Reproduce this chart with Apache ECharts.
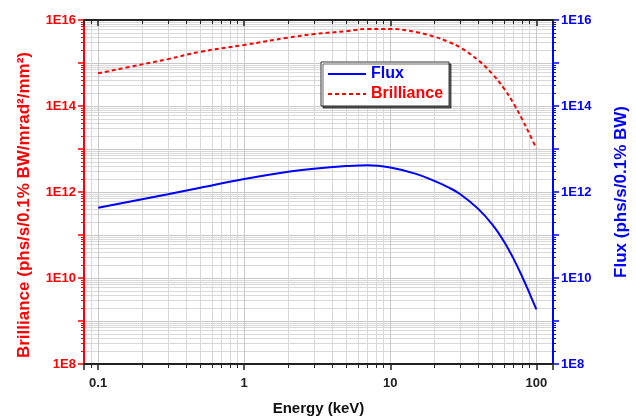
<!DOCTYPE html>
<html>
<head>
<meta charset="utf-8">
<script src="https://cdn.jsdelivr.net/npm/echarts@6/dist/echarts.min.js"></script>
<style>
  html, body { margin: 0; padding: 0; background: #fff; }
  #chart { width: 636px; height: 417px; }
</style>
</head>
<body>
<div id="chart"></div>
<script>
const energy = [0.1, 0.2, 0.3, 0.5, 1, 2, 3, 5, 7, 10, 15, 20, 25, 30, 40, 50, 60, 70, 80, 90, 100]
const brilliance = [5.75e14, 9.3e14, 1.23e15, 1.82e15, 2.63e15, 3.9e15, 4.7e15, 5.5e15, 6.2e15, 6.2e15, 5.24e15, 4.09e15, 3.11e15, 2.31e15, 1.16e15, 5.55e14, 2.55e14, 1.13e14, 4.88e13, 2.19e13, 1.03e13]
const flux = [4.3e11, 6.8e11, 8.9e11, 1.26e12, 2.0e12, 2.95e12, 3.47e12, 4.0e12, 4.2e12, 3.7e12, 2.64e12, 1.81e12, 1.28e12, 9.0e11, 4.05e11, 1.74e11, 7.07e10, 2.75e10, 1.07e10, 4.31e9, 1.86e9]

const font = 'Liberation Sans, Arial, sans-serif'
const chart = echarts.init(document.getElementById('chart'))

const pairs = (ys) => energy.map((e, i) => [e, ys[i]])
const expLabel = (v) => {
  const p = Math.round(Math.log10(v))
  return p % 2 === 0 ? '1E' + p : ''
}

const yAxisBase = (color, pos) => ({
  type: 'log',
  logBase: 10,
  position: pos,
  min: 1e8,
  max: 1e16,
  splitNumber: 8,
  axisLine: {show: true, lineStyle: {color: color, width: 2}},
  axisTick: {show: true, inside: false, length: 6, lineStyle: {color: color, width: 1.5}},
  minorTick: {show: true, splitNumber: 9, length: 3, lineStyle: {color: color}},
  axisLabel: {color: color, fontFamily: font, fontWeight: 'bold', fontSize: 13, formatter: expLabel, margin: 8},
  nameLocation: 'middle',
  nameRotate: 90,
})

chart.setOption({
  animation: false,
  backgroundColor: '#fff',
  grid: {left: 84, right: 83, top: 20, bottom: 53, outerBoundsMode: 'none'},
  legend: {
    orient: 'vertical',
    left: 321,
    top: 62,
    itemWidth: 38,
    itemHeight: 10,
    itemGap: 4,
    padding: [4, 6, 4, 6],
    backgroundColor: '#fff',
    borderColor: '#333',
    borderWidth: 1,
    shadowColor: 'rgba(0,0,0,0.6)',
    shadowOffsetX: 2,
    shadowOffsetY: 2,
    itemStyle: {color: 'transparent', borderWidth: 0},
    textStyle: {fontFamily: font, fontWeight: 'bold', fontSize: 16},
    data: [
      {name: 'Flux', textStyle: {color: '#0000ff'}},
      {name: 'Brilliance', textStyle: {color: '#ff0000'}},
    ],
  },
  xAxis: [
    {
      type: 'log',
      logBase: 10,
      min: 0.08,
      max: 130,
      position: 'bottom',
      axisLine: {show: true, lineStyle: {color: '#222', width: 2}},
      axisTick: {show: true, inside: false, length: 6, lineStyle: {color: '#222', width: 1.5}},
      minorTick: {show: true, splitNumber: 9, length: 4, lineStyle: {color: '#222'}},
      axisLabel: {color: '#222', fontFamily: font, fontWeight: 'bold', fontSize: 13, margin: 13, showMinLabel: false, showMaxLabel: false},
      splitLine: {show: true, lineStyle: {color: '#c8c8c8'}},
      minorSplitLine: {show: true, lineStyle: {color: '#d8d8d8'}},
      name: 'Energy (keV)',
      nameLocation: 'middle',
      nameGap: 37,
      nameTextStyle: {color: '#111', fontFamily: font, fontWeight: 'bold', fontSize: 15},
    },
    {
      type: 'log',
      logBase: 10,
      min: 0.08,
      max: 130,
      position: 'top',
      axisLine: {show: true, lineStyle: {color: '#222', width: 2}},
      axisTick: {show: true, inside: true, length: 6, lineStyle: {color: '#222', width: 1.5}},
      minorTick: {show: true, splitNumber: 9, length: 4, lineStyle: {color: '#222'}},
      axisLabel: {show: false},
      splitLine: {show: false},
    },
  ],
  yAxis: [
    Object.assign(yAxisBase('#ff0000', 'left'), {
      name: 'Brilliance (phs/s/0.1% BW/mrad²/mm²)',
      nameGap: 51,
      nameTextStyle: {color: '#ff0000', fontFamily: font, fontWeight: 'bold', fontSize: 17, padding: [0, 26, 0, 0]},
      splitLine: {show: true, lineStyle: {color: '#c8c8c8'}},
      minorSplitLine: {show: true, lineStyle: {color: '#d8d8d8'}},
    }),
    Object.assign(yAxisBase('#0000ff', 'right'), {
      name: 'Flux (phs/s/0.1% BW)',
      nameGap: 60,
      nameTextStyle: {color: '#0000ff', fontFamily: font, fontWeight: 'bold', fontSize: 17},
      splitLine: {show: false},
    }),
  ],
  series: [
    {
      name: 'Flux',
      type: 'line',
      yAxisIndex: 1,
      smooth: 0.4,
      showSymbol: false,
      symbol: 'none',
      color: '#0000ff',
      lineStyle: {color: '#0000ff', width: 2},
      data: pairs(flux),
      z: 3,
    },
    {
      name: 'Brilliance',
      type: 'line',
      yAxisIndex: 0,
      smooth: 0.4,
      showSymbol: false,
      symbol: 'none',
      color: '#ff0000',
      lineStyle: {color: '#ff0000', width: 2, type: [4, 3]},
      data: pairs(brilliance),
      z: 3,
    },
  ],
})
</script>
</body>
</html>
